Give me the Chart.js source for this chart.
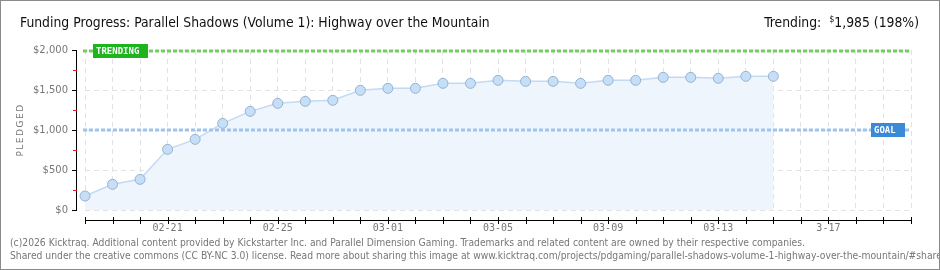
<!DOCTYPE html>
<html>
<head>
<meta charset="utf-8">
<script src="https://cdn.jsdelivr.net/npm/chart.js@4/dist/chart.umd.min.js"></script>
<style>
  body { margin: 0; background: #fff; }
  #wrap { position: relative; width: 940px; height: 270px; overflow: hidden; }
  #frame { position: absolute; left: 0; top: 0; width: 938px; height: 268px; border: 1px solid #8a8a8a; pointer-events: none; }
  canvas { position: absolute; left: 0; top: 0; }
  .t { position: absolute; white-space: nowrap; color: #111; }
  #title { left: 20px; top: 14px; font: 13.8px "DejaVu Sans Condensed", "DejaVu Sans", sans-serif; }
  #trend { right: 21px; top: 14px; font: 13.8px "DejaVu Sans Condensed", "DejaVu Sans", sans-serif; }
  #trend sup { font-size: 9px; vertical-align: 5px; margin-left: 4px; }
  .foot { left: 10px; font: 10.25px "DejaVu Sans Condensed", "DejaVu Sans", sans-serif; color: #777; }
</style>
</head>
<body>
<div id="wrap">
  <canvas id="chart" width="940" height="270"></canvas>
  <div class="t" id="title">Funding Progress: Parallel Shadows (Volume 1): Highway over the Mountain</div>
  <div class="t" id="trend">Trending: <sup>$</sup>1,985 (198%)</div>
  <div class="t foot" style="top:236px">(c)2026 Kicktraq. Additional content provided by Kickstarter Inc. and Parallel Dimension Gaming. Trademarks and related content are owned by their respective companies.</div>
  <div class="t foot" style="top:249px">Shared under the creative commons (CC BY-NC 3.0) license. Read more about sharing this image at www.kicktraq.com/projects/pdgaming/parallel-shadows-volume-1-highway-over-the-mountain/#share</div>
  <div id="frame"></div>
</div>
<script>
const days = ["02-18","02-19","02-20","02-21","02-22","02-23","02-24","02-25","02-26","02-27","02-28",
  "03-01","03-02","03-03","03-04","03-05","03-06","03-07","03-08","03-09","03-10","03-11","03-12",
  "03-13","03-14","03-15","03-16","03-17","03-18","03-19","03-20"];
const shownLabels = { "02-21": "02-21", "02-25": "02-25", "03-01": "03-01", "03-05": "03-05",
  "03-09": "03-09", "03-13": "03-13", "03-17": "3-17" };
const pledged = [175, 321, 383, 758, 883, 1083, 1233, 1333, 1358, 1371, 1496, 1521, 1521,
  1583, 1583, 1621, 1608, 1608, 1583, 1621, 1621, 1658, 1658, 1646, 1671, 1671];
const yTicks = [0, 500, 1000, 1500, 2000];
const yMinorTicks = [250, 750, 1250, 1750];
const goal = 1000;
const trending = 1985;

function fmtMoney(v) { return "$" + v.toLocaleString("en-US"); }

function tag(ctx, x, y, w, text, bg) {
  ctx.fillStyle = bg;
  ctx.fillRect(x, y - 7, w, 14);
  ctx.fillStyle = "#fff";
  ctx.font = "bold 9px 'DejaVu Sans Mono', monospace";
  ctx.textAlign = "left";
  ctx.textBaseline = "middle";
  ctx.fillText(text, x + 3, y + 0.5);
}

const decor = {
  id: "decor",
  afterDatasetsDraw(chart) {
    const ctx = chart.ctx, xs = chart.scales.x, ys = chart.scales.y, a = chart.chartArea;
    ctx.save();
    // goal + trending lines
    ctx.lineWidth = 3;
    ctx.setLineDash([4, 2]);
    ctx.strokeStyle = "#9cc4ee";
    const gy = Math.round(ys.getPixelForValue(goal));
    ctx.beginPath(); ctx.moveTo(a.left - 2, gy); ctx.lineTo(a.right, gy); ctx.stroke();
    ctx.strokeStyle = "#74cc62";
    const ty = Math.round(ys.getPixelForValue(trending));
    ctx.beginPath(); ctx.moveTo(a.left - 2, ty); ctx.lineTo(a.right, ty); ctx.stroke();
    ctx.setLineDash([]);

    ctx.strokeStyle = "#000";
    ctx.lineWidth = 1;
    // y axis
    ctx.beginPath(); ctx.moveTo(76.5, ys.getPixelForValue(2000)); ctx.lineTo(76.5, ys.getPixelForValue(0) + 0.5); ctx.stroke();
    yTicks.forEach(v => {
      const y = Math.round(ys.getPixelForValue(v)) + 0.5;
      ctx.beginPath(); ctx.moveTo(72, y); ctx.lineTo(77, y); ctx.stroke();
    });
    ctx.strokeStyle = "#d42020";
    yMinorTicks.forEach(v => {
      const y = Math.round(ys.getPixelForValue(v)) + 0.5;
      ctx.beginPath(); ctx.moveTo(73, y); ctx.lineTo(77, y); ctx.stroke();
    });
    // x axis
    ctx.strokeStyle = "#000";
    ctx.beginPath(); ctx.moveTo(xs.getPixelForValue(0), 220.5); ctx.lineTo(xs.getPixelForValue(days.length - 1) + 1, 220.5); ctx.stroke();
    days.forEach((d, i) => {
      const x = Math.round(xs.getPixelForValue(i)) + 0.5;
      ctx.beginPath(); ctx.moveTo(x, 217); ctx.lineTo(x, 224); ctx.stroke();
    });
    // labels
    tag(ctx, 93, ty, 55, "TRENDING", "#1db41d");
    tag(ctx, 871, gy, 34, "GOAL", "#3b8ad8");
    // y title
    ctx.fillStyle = "#777";
    ctx.font = "9px 'DejaVu Sans', sans-serif";
    ctx.translate(21, 130);
    ctx.rotate(-Math.PI / 2);
    ctx.textAlign = "center";
    ctx.textBaseline = "middle";
    ctx.letterSpacing = "1.5px";
    ctx.fillText("PLEDGED", 0, 0);
    ctx.restore();
  }
};

new Chart(document.getElementById("chart"), {
  type: "line",
  data: {
    labels: days,
    datasets: [{
      data: pledged,
      borderColor: "#c2daf3",
      borderWidth: 1.5,
      backgroundColor: "#eef5fd",
      fill: "origin",
      tension: 0,
      pointRadius: 5,
      pointBackgroundColor: "#c5dff8",
      pointBorderColor: "#98b2cc",
      pointBorderWidth: 1
    }]
  },
  options: {
    responsive: false,
    animation: false,
    events: [],
    layout: { padding: { left: 0, top: 50, right: 29, bottom: 30 } },
    plugins: { legend: { display: false }, tooltip: { enabled: false } },
    scales: {
      x: {
        offset: false,
        afterFit: s => { s.height = 30; },
        border: { display: false, dash: [5, 4] },
        grid: { color: "#e2e2e2", tickLength: 0, drawTicks: false },
        ticks: {
          autoSkip: false, maxRotation: 0, padding: 12, color: "#777",
          font: { family: "DejaVu Sans Mono", size: 10 },
          callback: (v, i) => shownLabels[days[i]] || ""
        }
      },
      y: {
        min: 0, max: 2000,
        afterFit: s => { s.width = 85; },
        afterBuildTicks: s => { s.ticks = yTicks.map(v => ({ value: v })); },
        border: { display: false, dash: [5, 4] },
        grid: { color: "#e2e2e2", tickLength: 0, drawTicks: false },
        ticks: {
          padding: 17, color: "#777",
          font: { family: "DejaVu Sans", size: 10 },
          callback: v => fmtMoney(v)
        }
      }
    }
  },
  plugins: [decor]
});
</script>
</body>
</html>
